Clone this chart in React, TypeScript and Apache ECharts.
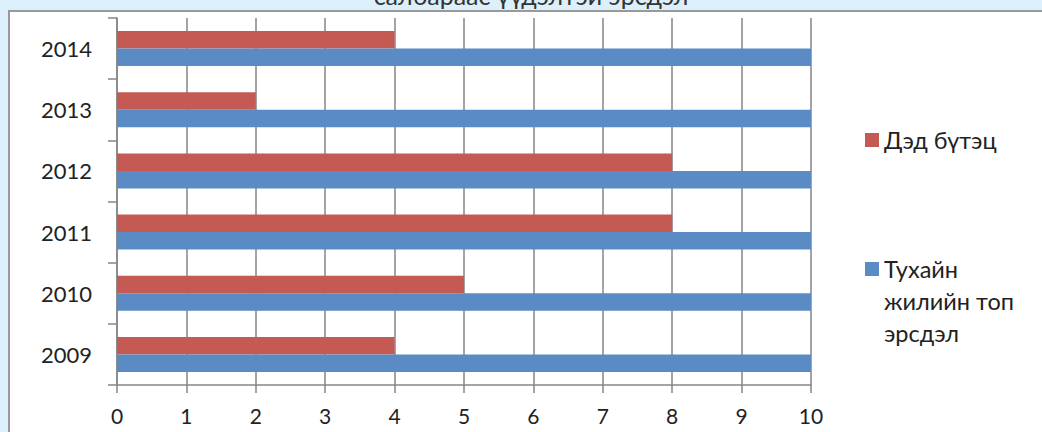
import React, { useEffect, useRef } from "react";
import * as echarts from "echarts";

const categories = ["2009", "2010", "2011", "2012", "2013", "2014"];
const infraName = "Дэд бүтэц";
const topRiskName = "Тухайн жилийн топ эрсдэл";
const infraValues = [4, 5, 8, 8, 2, 4];
const topRiskValues = [10, 10, 10, 10, 10, 10];
const xTicks = [0, 10, 1];
const titleText = "салбараас үүдэлтэй эрсдэл";

export default function App() {
  const ref = useRef<HTMLDivElement>(null);
  useEffect(() => {
    if (!ref.current) return;
    const chart = echarts.init(ref.current, null, { renderer: "svg" });
    const font = "Lato, 'Open Sans', sans-serif";
    const legendText = { fontSize: 23.5, color: "#222222", fontFamily: font, lineHeight: 32 };
    chart.setOption({
      animation: false,
      backgroundColor: "#ffffff",
      textStyle: { fontFamily: font },
      graphic: [
        { type: "rect", z: -10, shape: { x: 0, y: 0, width: 1042, height: 432 }, style: { fill: "#dcf0fb" } },
        { type: "rect", z: -9, shape: { x: 8, y: 10, width: 1040, height: 430 }, style: { fill: "#999999" } },
        { type: "rect", z: -8, shape: { x: 10, y: 12, width: 1040, height: 430 }, style: { fill: "#ffffff" } },
        {
          type: "text",
          z: -7,
          x: 531,
          y: 7,
          style: {
            text: titleText,
            fontFamily: font,
            fontSize: 25,
            fill: "#333333",
            align: "center",
            verticalAlign: "bottom",
          },
        },
      ],
      legend: [
        {
          orient: "vertical",
          left: 865,
          top: 124,
          padding: 0,
          itemWidth: 14,
          itemHeight: 14,
          icon: "rect",
          textStyle: legendText,
          data: [{ name: infraName }],
        },
        {
          orient: "vertical",
          left: 865,
          top: 189,
          padding: 0,
          itemWidth: 14,
          itemHeight: 14,
          icon: "rect",
          textStyle: legendText,
          data: [{ name: topRiskName }],
          formatter: () => " \n \nТухайн\nжилийн топ\nэрсдэл",
        },
      ],
      grid: { left: 117, right: 231, top: 18, bottom: 47, containLabel: false },
      xAxis: {
        type: "value",
        min: xTicks[0],
        max: xTicks[1],
        interval: xTicks[2],
        axisLine: { show: true, lineStyle: { color: "#868686", width: 1.5 } },
        axisTick: { show: true, length: 8, lineStyle: { color: "#868686", width: 1.5 } },
        splitLine: { show: true, lineStyle: { color: "#868686", width: 1.5 } },
        axisLabel: { fontSize: 21, color: "#222222", margin: 20, fontFamily: font },
      },
      yAxis: {
        type: "category",
        data: categories,
        axisLine: { show: true, lineStyle: { color: "#868686", width: 1.5 } },
        axisTick: { show: true, length: 9, lineStyle: { color: "#868686", width: 1.5 } },
        axisLabel: { fontSize: 22, color: "#222222", margin: 25, fontFamily: font },
      },
      series: [
        {
          name: infraName,
          type: "bar",
          data: infraValues,
          barWidth: 17.5,
          barGap: "0%",
          itemStyle: { color: "#c55a55" },
        },
        {
          name: topRiskName,
          type: "bar",
          data: topRiskValues,
          barWidth: 17.5,
          barGap: "0%",
          itemStyle: { color: "#5b8bc5" },
        },
      ],
    });
    return () => chart.dispose();
  }, []);
  return (
    <div
      ref={ref}
      style={{ position: "fixed", left: 0, top: 0, width: 1042, height: 432 }}
    />
  );
}
